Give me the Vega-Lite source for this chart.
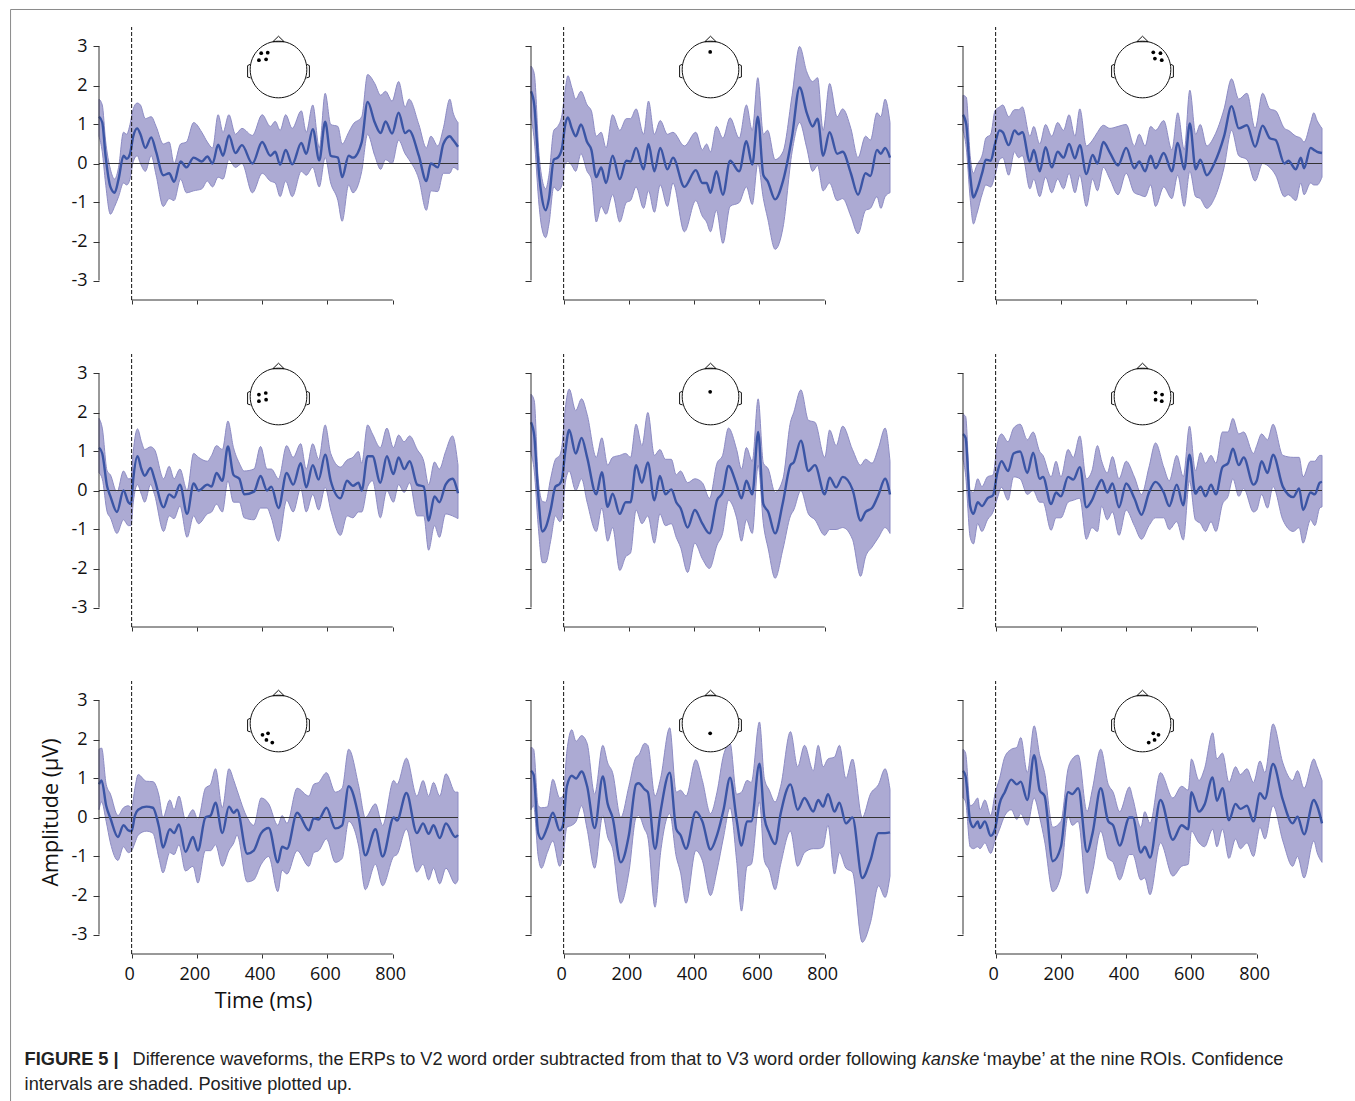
{"$schema":"https://vega.github.io/schema/vega-lite/v6.json","padding":{"left":10,"top":8,"right":0,"bottom":0},"background":"white","config":{"view":{"continuousWidth":359,"continuousHeight":273,"stroke":null},"axis":{"domain":false,"grid":false,"tickColor":"#333","labelFont":"Open Sans","labelFontSize":18,"labelColor":"#111","titleFont":"Open Sans","titleFontSize":21.5,"titleFontWeight":"normal","titleColor":"#111"},"axisX":{"tickSize":4,"labelPadding":7,"labelOffset":-2.5},"axisY":{"tickSize":6,"labelPadding":6},"area":{"color":"#acaad3","opacity":1,"stroke":"#8d8cc4","strokeWidth":1,"interpolate":"monotone"},"line":{"color":"#3b55a5","strokeWidth":2.4,"interpolate":"monotone"},"rule":{"color":"#333","strokeWidth":1},"text":{"font":"Liberation Sans","fontSize":18.2,"align":"left","baseline":"middle","color":"#222"}},
"datasets":{"one":[{}],"head":[{"t":450,"v":2.41}],
"e1":[{"t":397,"v":2.83},{"t":417,"v":2.84},{"t":390,"v":2.65},{"t":412,"v":2.67}],"e2":[{"t":449,"v":2.86}],"e3":[{"t":483,"v":2.85},{"t":505,"v":2.83},{"t":488,"v":2.69},{"t":509,"v":2.65}],"e4":[{"t":390,"v":2.46},{"t":411,"v":2.5},{"t":390,"v":2.29},{"t":412,"v":2.33}],"e5":[{"t":449,"v":2.53}],"e6":[{"t":490,"v":2.51},{"t":510,"v":2.46},{"t":490,"v":2.33},{"t":509,"v":2.29}],"e7":[{"t":401,"v":2.12},{"t":418,"v":2.16},{"t":413,"v":1.99},{"t":431,"v":1.92}],"e8":[{"t":449,"v":2.16}],"e9":[{"t":483,"v":2.16},{"t":499,"v":2.12},{"t":487,"v":1.99},{"t":469,"v":1.92}],
"p1":[{"t":-100,"m":1.2,"l":0.7,"h":1.65},{"t":-90,"m":1.05,"l":0.3,"h":1.5},{"t":-80,"m":0.2,"l":-0.5,"h":0.6},{"t":-65,"m":-0.6,"l":-1.3,"h":-0.15},{"t":-52,"m":-0.75,"l":-1.1,"h":-0.4},{"t":-40,"m":-0.4,"l":-0.85,"h":-0.1},{"t":-25,"m":0.2,"l":-0.5,"h":0.8},{"t":-15,"m":0.12,"l":-0.55,"h":0.75},{"t":-5,"m":0.25,"l":-0.4,"h":1},{"t":5,"m":0.7,"l":0.05,"h":1.4},{"t":17,"m":0.9,"l":0.2,"h":1.55},{"t":27,"m":0.75,"l":0,"h":1.5},{"t":42,"m":0.4,"l":-0.2,"h":1.15},{"t":60,"m":0.67,"l":0.2,"h":1.2},{"t":75,"m":0.3,"l":-0.3,"h":0.95},{"t":97,"m":-0.3,"l":-1.1,"h":0.5},{"t":115,"m":-0.25,"l":-0.9,"h":0.55},{"t":130,"m":-0.47,"l":-0.95,"h":0},{"t":150,"m":0.05,"l":-0.4,"h":0.5},{"t":168,"m":-0.1,"l":-0.75,"h":0.55},{"t":190,"m":0.15,"l":-0.7,"h":1.05},{"t":215,"m":0.05,"l":-0.65,"h":0.8},{"t":232,"m":0.18,"l":-0.45,"h":0.55},{"t":248,"m":0,"l":-0.6,"h":0.4},{"t":265,"m":0.48,"l":-0.35,"h":1.25},{"t":280,"m":0.2,"l":-0.4,"h":0.8},{"t":298,"m":0.72,"l":0.1,"h":1.25},{"t":318,"m":0.27,"l":-0.1,"h":0.75},{"t":338,"m":0.47,"l":0,"h":0.9},{"t":370,"m":0,"l":-0.75,"h":0.72},{"t":400,"m":0.55,"l":-0.25,"h":1.25},{"t":425,"m":0.2,"l":-0.45,"h":0.95},{"t":440,"m":0.3,"l":-0.5,"h":1.08},{"t":455,"m":-0.03,"l":-0.85,"h":0.85},{"t":472,"m":0.35,"l":-0.45,"h":1.25},{"t":492,"m":-0.02,"l":-0.85,"h":0.9},{"t":520,"m":0.53,"l":-0.2,"h":1.35},{"t":535,"m":0.25,"l":-0.3,"h":0.8},{"t":555,"m":0.88,"l":-0.1,"h":1.5},{"t":575,"m":0.08,"l":-0.6,"h":0.4},{"t":593,"m":1.07,"l":0.15,"h":1.8},{"t":610,"m":0.2,"l":-0.5,"h":1},{"t":632,"m":0.15,"l":-0.95,"h":0.95},{"t":645,"m":-0.35,"l":-1.48,"h":0.5},{"t":665,"m":0.2,"l":-0.55,"h":0.8},{"t":678,"m":0.15,"l":-0.75,"h":1},{"t":705,"m":0.55,"l":-0.2,"h":1.2},{"t":723,"m":1.58,"l":0.75,"h":2.28},{"t":745,"m":1.05,"l":0.2,"h":2.05},{"t":763,"m":0.78,"l":-0.15,"h":1.75},{"t":778,"m":1.08,"l":0.1,"h":1.85},{"t":798,"m":0.77,"l":0,"h":1.6},{"t":818,"m":1.3,"l":0.6,"h":2.1},{"t":838,"m":0.78,"l":0.25,"h":1.45},{"t":850,"m":0.85,"l":0.1,"h":1.65},{"t":880,"m":0.2,"l":-0.4,"h":1},{"t":903,"m":-0.45,"l":-1.2,"h":0.4},{"t":917,"m":0,"l":-0.7,"h":0.7},{"t":938,"m":-0.1,"l":-0.72,"h":0.45},{"t":955,"m":0.5,"l":-0.25,"h":0.9},{"t":975,"m":0.7,"l":-0.25,"h":1.65},{"t":985,"m":0.6,"l":-0.1,"h":1.3},{"t":1000,"m":0.43,"l":-0.17,"h":1.05}],
"p2":[{"t":-100,"m":1.85,"l":1.2,"h":2.5},{"t":-90,"m":1.5,"l":0.6,"h":2.3},{"t":-75,"m":-0.3,"l":-1.1,"h":0.2},{"t":-68,"m":-0.8,"l":-1.6,"h":-0.3},{"t":-55,"m":-1.2,"l":-1.9,"h":-0.65},{"t":-45,"m":-0.9,"l":-1.55,"h":-0.3},{"t":-30,"m":0.1,"l":-0.6,"h":0.85},{"t":-18,"m":0.15,"l":-0.7,"h":0.95},{"t":-5,"m":0.4,"l":-0.55,"h":1.25},{"t":5,"m":1,"l":0,"h":1.9},{"t":13,"m":1.18,"l":0.05,"h":2.25},{"t":25,"m":0.9,"l":-0.05,"h":1.95},{"t":37,"m":0.7,"l":-0.2,"h":1.65},{"t":53,"m":1,"l":0.25,"h":1.85},{"t":72,"m":0.55,"l":-0.2,"h":1.5},{"t":85,"m":0.35,"l":-0.4,"h":1.35},{"t":100,"m":-0.35,"l":-1.5,"h":0.7},{"t":115,"m":-0.1,"l":-1.1,"h":0.8},{"t":130,"m":-0.5,"l":-1.3,"h":0.4},{"t":150,"m":0.2,"l":-0.8,"h":1.25},{"t":172,"m":-0.4,"l":-1.5,"h":0.85},{"t":192,"m":0.07,"l":-1,"h":1.15},{"t":205,"m":0.05,"l":-0.95,"h":1.15},{"t":222,"m":0.4,"l":-0.6,"h":1.4},{"t":245,"m":-0.15,"l":-1.15,"h":0.75},{"t":260,"m":0.5,"l":-0.7,"h":1.6},{"t":278,"m":-0.2,"l":-1.25,"h":0.75},{"t":296,"m":0.4,"l":-0.55,"h":1.1},{"t":318,"m":-0.15,"l":-1.1,"h":0.75},{"t":335,"m":0.15,"l":-0.5,"h":0.8},{"t":370,"m":-0.6,"l":-1.75,"h":0.45},{"t":405,"m":-0.17,"l":-0.95,"h":0.8},{"t":425,"m":-0.5,"l":-1.35,"h":0.35},{"t":438,"m":-0.5,"l":-1.5,"h":0.5},{"t":450,"m":-0.75,"l":-1.75,"h":0.3},{"t":468,"m":-0.2,"l":-1.2,"h":0.95},{"t":488,"m":-0.8,"l":-2.05,"h":0.65},{"t":510,"m":0.07,"l":-1.1,"h":1.17},{"t":538,"m":-0.2,"l":-1,"h":0.65},{"t":560,"m":0.57,"l":-0.6,"h":1.5},{"t":578,"m":-0.03,"l":-1.05,"h":0.85},{"t":595,"m":1.2,"l":0,"h":2.2},{"t":612,"m":-0.3,"l":-0.9,"h":0.75},{"t":625,"m":-0.45,"l":-1.4,"h":0.85},{"t":648,"m":-0.92,"l":-2.2,"h":0.1},{"t":672,"m":-0.45,"l":-1.65,"h":0.3},{"t":700,"m":0.7,"l":0.3,"h":1.75},{"t":723,"m":1.95,"l":1.05,"h":3},{"t":745,"m":1.3,"l":0.4,"h":2.35},{"t":763,"m":0.95,"l":-0.2,"h":2.1},{"t":778,"m":1.15,"l":-0.05,"h":2.2},{"t":795,"m":0.2,"l":-0.7,"h":0.85},{"t":815,"m":0.8,"l":-0.5,"h":2.05},{"t":838,"m":0.25,"l":-0.95,"h":1.2},{"t":855,"m":0.3,"l":-0.9,"h":1.4},{"t":880,"m":-0.25,"l":-1.35,"h":0.9},{"t":902,"m":-0.8,"l":-1.8,"h":0.15},{"t":925,"m":-0.25,"l":-1.2,"h":0.7},{"t":940,"m":-0.32,"l":-1.15,"h":0.6},{"t":960,"m":0.35,"l":-0.85,"h":1.3},{"t":972,"m":0.25,"l":-1.15,"h":1.2},{"t":985,"m":0.4,"l":-0.85,"h":1.65},{"t":1000,"m":0.15,"l":-0.75,"h":1.05}],
"p3":[{"t":-100,"m":1.25,"l":0.85,"h":1.75},{"t":-90,"m":1,"l":0.4,"h":1.7},{"t":-78,"m":-0.3,"l":-0.9,"h":0.2},{"t":-68,"m":-0.87,"l":-1.55,"h":-0.25},{"t":-58,"m":-0.7,"l":-1.3,"h":-0.05},{"t":-40,"m":-0.2,"l":-0.75,"h":0.25},{"t":-30,"m":0.1,"l":-0.55,"h":0.65},{"t":-15,"m":0.07,"l":-0.6,"h":0.75},{"t":-2,"m":0.5,"l":-0.3,"h":1.35},{"t":12,"m":0.85,"l":0.1,"h":1.45},{"t":22,"m":0.8,"l":0.15,"h":1.5},{"t":40,"m":0.47,"l":-0.3,"h":1.2},{"t":58,"m":0.85,"l":0.3,"h":1.38},{"t":70,"m":0.75,"l":0.15,"h":1.38},{"t":82,"m":0.8,"l":0.2,"h":1.45},{"t":105,"m":0.05,"l":-0.65,"h":0.7},{"t":117,"m":0.35,"l":-0.4,"h":0.95},{"t":135,"m":-0.2,"l":-0.85,"h":0.5},{"t":153,"m":0.42,"l":-0.35,"h":1},{"t":172,"m":-0.1,"l":-0.75,"h":0.7},{"t":190,"m":0.3,"l":-0.4,"h":1.05},{"t":208,"m":0.15,"l":-0.65,"h":0.85},{"t":225,"m":0.5,"l":-0.25,"h":1.25},{"t":243,"m":0.13,"l":-0.75,"h":0.7},{"t":258,"m":0.47,"l":-0.3,"h":1.4},{"t":278,"m":-0.27,"l":-1.1,"h":0.45},{"t":297,"m":0.22,"l":-0.4,"h":0.6},{"t":312,"m":0,"l":-0.7,"h":0.8},{"t":330,"m":0.55,"l":-0.1,"h":0.98},{"t":350,"m":0.28,"l":-0.4,"h":0.9},{"t":375,"m":-0.05,"l":-0.8,"h":0.95},{"t":400,"m":0.4,"l":-0.25,"h":1},{"t":425,"m":-0.12,"l":-0.75,"h":0.45},{"t":440,"m":0.05,"l":-0.8,"h":0.75},{"t":458,"m":-0.2,"l":-0.85,"h":0.45},{"t":475,"m":0.2,"l":-0.55,"h":0.95},{"t":490,"m":-0.12,"l":-1.1,"h":0.85},{"t":515,"m":0.27,"l":-0.6,"h":1.1},{"t":540,"m":-0.2,"l":-0.9,"h":0.35},{"t":558,"m":0.53,"l":-0.3,"h":1.3},{"t":578,"m":-0.15,"l":-1.1,"h":0.35},{"t":595,"m":1.03,"l":-0.2,"h":1.88},{"t":613,"m":-0.15,"l":-0.85,"h":0.75},{"t":627,"m":0.1,"l":-0.9,"h":1},{"t":647,"m":-0.3,"l":-1.15,"h":0.45},{"t":670,"m":0,"l":-0.9,"h":0.7},{"t":700,"m":0.7,"l":-0.1,"h":1.4},{"t":723,"m":1.47,"l":0.85,"h":2.17},{"t":745,"m":0.9,"l":0.2,"h":1.65},{"t":770,"m":0.98,"l":0.1,"h":1.8},{"t":795,"m":0.43,"l":-0.45,"h":0.9},{"t":818,"m":0.97,"l":0,"h":1.8},{"t":840,"m":0.65,"l":-0.1,"h":1.4},{"t":858,"m":0.6,"l":-0.3,"h":1.35},{"t":885,"m":0,"l":-0.85,"h":0.9},{"t":897,"m":0.07,"l":-0.8,"h":0.85},{"t":920,"m":-0.15,"l":-0.95,"h":0.7},{"t":935,"m":0.15,"l":-0.5,"h":0.65},{"t":945,"m":-0.12,"l":-0.8,"h":0.55},{"t":965,"m":0.4,"l":-0.5,"h":1.05},{"t":975,"m":0.35,"l":-0.55,"h":1.3},{"t":985,"m":0.3,"l":-0.55,"h":1.1},{"t":1000,"m":0.27,"l":-0.35,"h":0.9}],
"p4":[{"t":-100,"m":1.1,"l":0.45,"h":1.85},{"t":-90,"m":0.95,"l":0.3,"h":1.6},{"t":-75,"m":0.1,"l":-0.55,"h":0.5},{"t":-65,"m":-0.15,"l":-0.7,"h":0.4},{"t":-45,"m":-0.55,"l":-1.1,"h":-0.05},{"t":-25,"m":0,"l":-0.75,"h":0.5},{"t":-10,"m":-0.3,"l":-0.9,"h":0.3},{"t":-2,"m":-0.35,"l":-0.9,"h":0.3},{"t":5,"m":0.3,"l":-0.3,"h":1},{"t":18,"m":0.88,"l":0.15,"h":1.58},{"t":30,"m":0.55,"l":-0.1,"h":1.25},{"t":40,"m":0.38,"l":-0.3,"h":1.05},{"t":58,"m":0.58,"l":0.15,"h":1.12},{"t":70,"m":0.3,"l":-0.1,"h":1.05},{"t":98,"m":-0.43,"l":-1.05,"h":0.3},{"t":115,"m":-0.1,"l":-0.65,"h":0.62},{"t":130,"m":-0.18,"l":-0.72,"h":0.3},{"t":148,"m":0.15,"l":-0.4,"h":0.55},{"t":170,"m":-0.6,"l":-1.2,"h":0},{"t":190,"m":0.18,"l":-0.65,"h":0.95},{"t":205,"m":0,"l":-0.85,"h":0.85},{"t":232,"m":0.15,"l":-0.6,"h":0.75},{"t":245,"m":0.1,"l":-0.55,"h":0.9},{"t":260,"m":0.45,"l":-0.35,"h":1.15},{"t":278,"m":0.25,"l":-0.55,"h":1.05},{"t":295,"m":1.13,"l":0.25,"h":1.78},{"t":312,"m":0.4,"l":-0.3,"h":1.1},{"t":330,"m":0.3,"l":-0.3,"h":0.7},{"t":345,"m":-0.1,"l":-0.7,"h":0.5},{"t":375,"m":-0.03,"l":-0.75,"h":0.55},{"t":395,"m":0.37,"l":-0.45,"h":1.13},{"t":415,"m":0,"l":-0.45,"h":0.55},{"t":428,"m":0.1,"l":-0.7,"h":0.55},{"t":450,"m":-0.45,"l":-1.3,"h":0.3},{"t":475,"m":0.45,"l":-0.25,"h":1.15},{"t":495,"m":0.15,"l":-0.55,"h":0.85},{"t":518,"m":0.7,"l":0.05,"h":1.2},{"t":535,"m":0.08,"l":-0.55,"h":0.55},{"t":555,"m":0.65,"l":-0.1,"h":1.2},{"t":573,"m":0.28,"l":-0.5,"h":0.8},{"t":593,"m":0.92,"l":0.08,"h":1.68},{"t":610,"m":0.25,"l":-0.5,"h":0.95},{"t":640,"m":-0.2,"l":-1.15,"h":0.6},{"t":660,"m":0.25,"l":-0.65,"h":0.78},{"t":678,"m":0.12,"l":-0.7,"h":0.85},{"t":695,"m":0.2,"l":-0.55,"h":1},{"t":705,"m":0,"l":-0.55,"h":0.7},{"t":723,"m":0.88,"l":0.1,"h":1.68},{"t":738,"m":0.88,"l":0.25,"h":1.45},{"t":762,"m":0.2,"l":-0.7,"h":1.1},{"t":782,"m":0.88,"l":0,"h":1.6},{"t":802,"m":0.42,"l":-0.3,"h":1.1},{"t":818,"m":0.85,"l":0.15,"h":1.42},{"t":835,"m":0.55,"l":-0.05,"h":1.25},{"t":852,"m":0.75,"l":0.2,"h":1.4},{"t":875,"m":0.15,"l":-0.65,"h":1.05},{"t":895,"m":0.1,"l":-0.65,"h":0.75},{"t":910,"m":-0.77,"l":-1.53,"h":0.15},{"t":928,"m":-0.15,"l":-0.9,"h":0.73},{"t":943,"m":-0.3,"l":-1.2,"h":0.55},{"t":962,"m":0.15,"l":-0.6,"h":1},{"t":983,"m":0.3,"l":-0.65,"h":1.4},{"t":1000,"m":-0.07,"l":-0.72,"h":0.65}],
"p5":[{"t":-100,"m":1.75,"l":0.95,"h":2.47},{"t":-90,"m":1.4,"l":0.5,"h":2.3},{"t":-78,"m":-0.1,"l":-0.9,"h":0.3},{"t":-65,"m":-1.05,"l":-1.85,"h":-0.28},{"t":-55,"m":-0.95,"l":-1.85,"h":-0.3},{"t":-40,"m":-0.5,"l":-1.3,"h":0.3},{"t":-25,"m":0.1,"l":-0.65,"h":0.8},{"t":-12,"m":0.17,"l":-0.8,"h":0.9},{"t":-5,"m":0.3,"l":-0.7,"h":1.15},{"t":5,"m":1,"l":0.2,"h":2.1},{"t":17,"m":1.55,"l":0.5,"h":2.6},{"t":37,"m":0.95,"l":0,"h":2.05},{"t":55,"m":1.35,"l":0.3,"h":2.35},{"t":72,"m":0.85,"l":-0.3,"h":1.95},{"t":100,"m":-0.1,"l":-1.05,"h":0.85},{"t":117,"m":0.47,"l":-0.45,"h":1.35},{"t":135,"m":-0.42,"l":-1.3,"h":0.65},{"t":150,"m":-0.08,"l":-0.95,"h":0.85},{"t":172,"m":-0.6,"l":-2.05,"h":0.9},{"t":190,"m":-0.3,"l":-1.7,"h":0.95},{"t":205,"m":-0.3,"l":-1.6,"h":0.85},{"t":222,"m":0.65,"l":-0.5,"h":1.7},{"t":240,"m":0.2,"l":-0.85,"h":1.15},{"t":258,"m":0.72,"l":-0.65,"h":2},{"t":278,"m":-0.25,"l":-1.35,"h":0.9},{"t":295,"m":0.37,"l":-0.6,"h":1.05},{"t":312,"m":-0.1,"l":-0.9,"h":0.8},{"t":330,"m":0.03,"l":-0.85,"h":0.8},{"t":345,"m":-0.3,"l":-1.2,"h":0.4},{"t":358,"m":-0.45,"l":-1.45,"h":0.5},{"t":380,"m":-0.95,"l":-2.1,"h":0.2},{"t":402,"m":-0.5,"l":-1.35,"h":0.3},{"t":425,"m":-0.85,"l":-1.75,"h":0.2},{"t":447,"m":-1.1,"l":-2,"h":-0.2},{"t":470,"m":-0.25,"l":-1.4,"h":0.7},{"t":487,"m":-0.05,"l":-1.1,"h":0.9},{"t":505,"m":0.63,"l":-0.25,"h":1.6},{"t":530,"m":0.15,"l":-0.7,"h":1.05},{"t":545,"m":-0.2,"l":-1.3,"h":0.55},{"t":560,"m":0.25,"l":-0.75,"h":1.1},{"t":578,"m":-0.1,"l":-1.1,"h":0.75},{"t":596,"m":1.5,"l":0.65,"h":2.35},{"t":612,"m":-0.35,"l":-0.85,"h":0.7},{"t":627,"m":-0.55,"l":-1.5,"h":0.55},{"t":648,"m":-1.1,"l":-2.25,"h":-0.05},{"t":672,"m":-0.3,"l":-1.5,"h":0.3},{"t":695,"m":0.65,"l":-0.65,"h":1.75},{"t":705,"m":0.72,"l":-0.5,"h":2},{"t":727,"m":1.28,"l":0,"h":2.58},{"t":750,"m":0.5,"l":-0.6,"h":1.8},{"t":770,"m":0.65,"l":-0.75,"h":1.75},{"t":800,"m":-0.1,"l":-1.15,"h":0.85},{"t":815,"m":0.33,"l":-1,"h":1.55},{"t":835,"m":0.08,"l":-1,"h":1.15},{"t":855,"m":0.35,"l":-0.95,"h":1.65},{"t":885,"m":0.03,"l":-1.25,"h":1.05},{"t":910,"m":-0.77,"l":-2.2,"h":0.65},{"t":925,"m":-0.55,"l":-1.7,"h":0.8},{"t":945,"m":-0.45,"l":-1.45,"h":0.7},{"t":965,"m":-0.1,"l":-1.2,"h":1.1},{"t":985,"m":0.3,"l":-0.95,"h":1.6},{"t":1000,"m":-0.1,"l":-1.1,"h":0.75}],
"p6":[{"t":-100,"m":1.45,"l":0.8,"h":1.95},{"t":-92,"m":1.35,"l":0.4,"h":1.9},{"t":-78,"m":-0.4,"l":-1.2,"h":0},{"t":-68,"m":-0.6,"l":-1.37,"h":-0.05},{"t":-55,"m":-0.3,"l":-0.85,"h":0.3},{"t":-42,"m":-0.4,"l":-1.05,"h":0.1},{"t":-25,"m":-0.2,"l":-0.75,"h":0.35},{"t":-8,"m":-0.12,"l":-0.55,"h":0.4},{"t":5,"m":0.45,"l":-0.2,"h":1.2},{"t":18,"m":0.75,"l":0.08,"h":1.45},{"t":38,"m":0.5,"l":-0.25,"h":1.25},{"t":55,"m":0.95,"l":0.35,"h":1.6},{"t":75,"m":1,"l":0.3,"h":1.7},{"t":97,"m":0.45,"l":-0.1,"h":1.3},{"t":115,"m":0.97,"l":0,"h":1.5},{"t":135,"m":0.3,"l":-0.3,"h":1},{"t":145,"m":0.35,"l":-0.3,"h":0.9},{"t":170,"m":-0.35,"l":-1.02,"h":0.35},{"t":185,"m":-0.05,"l":-0.7,"h":0.75},{"t":200,"m":-0.15,"l":-0.7,"h":0.35},{"t":222,"m":0.35,"l":-0.3,"h":1.05},{"t":238,"m":0.28,"l":-0.25,"h":0.85},{"t":258,"m":0.6,"l":-0.2,"h":1.4},{"t":278,"m":-0.43,"l":-1.25,"h":0.3},{"t":295,"m":-0.25,"l":-0.95,"h":0.5},{"t":312,"m":0.1,"l":-1.05,"h":1.15},{"t":325,"m":0.27,"l":-0.4,"h":0.75},{"t":342,"m":-0.05,"l":-0.75,"h":0.45},{"t":358,"m":0.18,"l":-0.55,"h":0.87},{"t":378,"m":-0.43,"l":-1.15,"h":0.3},{"t":400,"m":0.18,"l":-0.5,"h":0.75},{"t":425,"m":-0.2,"l":-0.9,"h":0.35},{"t":447,"m":-0.62,"l":-1.25,"h":-0.1},{"t":470,"m":-0.05,"l":-0.9,"h":0.6},{"t":490,"m":0.22,"l":-0.7,"h":1.22},{"t":515,"m":-0.05,"l":-0.7,"h":0.6},{"t":532,"m":-0.4,"l":-1,"h":0.25},{"t":555,"m":0.15,"l":-0.8,"h":0.9},{"t":575,"m":-0.38,"l":-1.27,"h":0.35},{"t":594,"m":0.92,"l":0.25,"h":1.65},{"t":612,"m":-0.08,"l":-0.75,"h":0.5},{"t":628,"m":0.1,"l":-0.85,"h":0.97},{"t":643,"m":-0.15,"l":-1.05,"h":0.7},{"t":660,"m":0.15,"l":-0.8,"h":0.9},{"t":675,"m":-0.1,"l":-1.05,"h":0.7},{"t":695,"m":0.6,"l":-0.35,"h":1.5},{"t":712,"m":0.7,"l":-0.15,"h":1.5},{"t":727,"m":1.07,"l":0.3,"h":1.85},{"t":745,"m":0.65,"l":-0.15,"h":1.45},{"t":760,"m":0.85,"l":0.05,"h":1.5},{"t":790,"m":0.15,"l":-0.55,"h":0.95},{"t":800,"m":0.25,"l":-0.5,"h":1.15},{"t":815,"m":0.75,"l":-0.1,"h":1.45},{"t":833,"m":0.45,"l":-0.45,"h":1.3},{"t":850,"m":0.92,"l":0.1,"h":1.7},{"t":880,"m":0.1,"l":-0.75,"h":0.9},{"t":912,"m":-0.17,"l":-1.05,"h":0.85},{"t":930,"m":0.05,"l":-0.95,"h":0.85},{"t":942,"m":-0.5,"l":-1.35,"h":0.35},{"t":965,"m":-0.05,"l":-0.75,"h":0.75},{"t":978,"m":-0.1,"l":-0.9,"h":0.75},{"t":993,"m":0.2,"l":-0.45,"h":0.9},{"t":1000,"m":0.22,"l":-0.42,"h":0.9}],
"p7":[{"t":-100,"m":0.85,"l":0.2,"h":1.75},{"t":-92,"m":0.95,"l":0.4,"h":1.78},{"t":-78,"m":0.3,"l":-0.1,"h":0.85},{"t":-65,"m":-0.02,"l":-0.65,"h":0.6},{"t":-42,"m":-0.5,"l":-1.1,"h":0.05},{"t":-25,"m":-0.2,"l":-0.75,"h":0.25},{"t":-10,"m":-0.33,"l":-0.9,"h":0.3},{"t":0,"m":-0.35,"l":-0.85,"h":0.25},{"t":10,"m":0.05,"l":-0.65,"h":0.75},{"t":20,"m":0.2,"l":-0.45,"h":1.1},{"t":45,"m":0.28,"l":-0.35,"h":0.93},{"t":65,"m":0.25,"l":-0.4,"h":0.92},{"t":84,"m":-0.25,"l":-1.05,"h":0.55},{"t":96,"m":-0.77,"l":-1.42,"h":0},{"t":117,"m":-0.3,"l":-0.9,"h":0.45},{"t":130,"m":-0.4,"l":-0.95,"h":0.2},{"t":145,"m":-0.18,"l":-0.7,"h":0.55},{"t":165,"m":-0.88,"l":-1.37,"h":-0.05},{"t":188,"m":-0.5,"l":-1.25,"h":0.2},{"t":203,"m":-0.85,"l":-1.68,"h":-0.05},{"t":226,"m":0,"l":-0.85,"h":0.75},{"t":242,"m":0.05,"l":-0.85,"h":0.85},{"t":257,"m":0.38,"l":-0.7,"h":1.25},{"t":278,"m":-0.4,"l":-1.25,"h":0.25},{"t":298,"m":0.28,"l":-0.85,"h":1.25},{"t":313,"m":0.12,"l":-0.65,"h":0.95},{"t":323,"m":0.2,"l":-0.45,"h":0.7},{"t":354,"m":-0.93,"l":-1.65,"h":0},{"t":374,"m":-0.85,"l":-1.6,"h":-0.2},{"t":397,"m":-0.4,"l":-1.2,"h":0.5},{"t":420,"m":-0.27,"l":-1,"h":0.35},{"t":448,"m":-1.15,"l":-1.9,"h":-0.2},{"t":461,"m":-0.75,"l":-1.35,"h":0.05},{"t":476,"m":-0.8,"l":-1.45,"h":-0.15},{"t":507,"m":0.12,"l":-0.85,"h":0.75},{"t":543,"m":-0.33,"l":-1.25,"h":0.55},{"t":558,"m":-0.02,"l":-0.9,"h":0.85},{"t":573,"m":-0.05,"l":-0.85,"h":0.9},{"t":597,"m":0.25,"l":-0.55,"h":1.15},{"t":624,"m":-0.28,"l":-1.15,"h":0.65},{"t":645,"m":-0.2,"l":-1.05,"h":0.75},{"t":665,"m":0.8,"l":-0.1,"h":1.75},{"t":696,"m":0,"l":-0.75,"h":0.8},{"t":716,"m":-0.97,"l":-1.85,"h":0},{"t":747,"m":-0.3,"l":-1.2,"h":0.35},{"t":769,"m":-1,"l":-1.75,"h":-0.2},{"t":803,"m":0,"l":-1,"h":0.95},{"t":813,"m":-0.08,"l":-0.95,"h":0.85},{"t":842,"m":0.63,"l":-0.3,"h":1.52},{"t":874,"m":-0.4,"l":-1.4,"h":0.55},{"t":893,"m":-0.15,"l":-1.2,"h":0.95},{"t":910,"m":-0.42,"l":-1.6,"h":0.55},{"t":925,"m":-0.2,"l":-1.3,"h":0.9},{"t":944,"m":-0.53,"l":-1.7,"h":0.55},{"t":963,"m":-0.15,"l":-1.3,"h":1.12},{"t":992,"m":-0.5,"l":-1.7,"h":0.65},{"t":1000,"m":-0.45,"l":-1.6,"h":0.65}],
"p8":[{"t":-100,"m":1.2,"l":0.2,"h":1.8},{"t":-92,"m":1.1,"l":0.3,"h":1.75},{"t":-78,"m":-0.4,"l":-1,"h":0.3},{"t":-68,"m":-0.55,"l":-1.3,"h":0.25},{"t":-50,"m":-0.25,"l":-0.9,"h":0.27},{"t":-33,"m":0.12,"l":-0.6,"h":0.98},{"t":-12,"m":-0.33,"l":-1.25,"h":0.5},{"t":-2,"m":-0.2,"l":-1,"h":0.55},{"t":10,"m":0.8,"l":-0.25,"h":1.7},{"t":25,"m":1.07,"l":-0.2,"h":2.25},{"t":38,"m":1,"l":-0.1,"h":1.95},{"t":55,"m":1.18,"l":0.3,"h":2.1},{"t":72,"m":0.8,"l":-0.3,"h":1.9},{"t":95,"m":-0.27,"l":-1.3,"h":0.6},{"t":120,"m":1.05,"l":0.05,"h":1.85},{"t":135,"m":0.35,"l":-0.5,"h":1.4},{"t":150,"m":0,"l":-0.8,"h":1.15},{"t":175,"m":-1.15,"l":-2.2,"h":0},{"t":200,"m":-0.45,"l":-1.4,"h":0.8},{"t":222,"m":0.85,"l":0,"h":1.55},{"t":230,"m":0.88,"l":0.05,"h":1.6},{"t":248,"m":0.72,"l":-0.3,"h":1.9},{"t":258,"m":0.65,"l":-0.5,"h":1.85},{"t":280,"m":-0.8,"l":-2.3,"h":0.55},{"t":297,"m":0.15,"l":-0.9,"h":1},{"t":325,"m":1.15,"l":0.1,"h":2.3},{"t":345,"m":-0.3,"l":-1,"h":0.65},{"t":358,"m":-0.45,"l":-1.4,"h":0.7},{"t":375,"m":-0.8,"l":-2.2,"h":0.55},{"t":405,"m":0.15,"l":-0.85,"h":1.48},{"t":425,"m":-0.1,"l":-1.1,"h":0.95},{"t":450,"m":-0.82,"l":-2,"h":0.1},{"t":470,"m":-0.45,"l":-1.35,"h":0.65},{"t":490,"m":0.2,"l":-0.5,"h":1.6},{"t":510,"m":1.02,"l":0.25,"h":1.9},{"t":530,"m":-0.05,"l":-1.1,"h":0.6},{"t":545,"m":-0.72,"l":-2.4,"h":0.65},{"t":562,"m":-0.1,"l":-1.25,"h":0.95},{"t":575,"m":-0.1,"l":-1.2,"h":0.9},{"t":600,"m":1.38,"l":0.4,"h":2.45},{"t":615,"m":0,"l":-1.1,"h":1},{"t":630,"m":-0.4,"l":-1.35,"h":0.7},{"t":648,"m":-0.68,"l":-1.85,"h":0.4},{"t":665,"m":0.1,"l":-1.2,"h":0.8},{"t":695,"m":0.85,"l":-0.35,"h":2.2},{"t":717,"m":0.2,"l":-1.25,"h":1.3},{"t":738,"m":0.5,"l":-0.9,"h":1.85},{"t":765,"m":0.15,"l":-0.8,"h":1.2},{"t":780,"m":0.45,"l":-0.8,"h":1.85},{"t":795,"m":0.28,"l":-0.75,"h":1.3},{"t":810,"m":0.6,"l":-0.2,"h":1.5},{"t":830,"m":0.15,"l":-1.45,"h":1.55},{"t":845,"m":0.38,"l":-0.9,"h":1.85},{"t":865,"m":-0.15,"l":-1.3,"h":1},{"t":885,"m":0,"l":-1.4,"h":1.5},{"t":915,"m":-1.55,"l":-3.2,"h":0},{"t":940,"m":-1.1,"l":-2.7,"h":0.6},{"t":965,"m":-0.4,"l":-1.75,"h":0.85},{"t":985,"m":-0.4,"l":-2.05,"h":1.25},{"t":1000,"m":-0.38,"l":-1.5,"h":0.72}],
"p9":[{"t":-100,"m":1.2,"l":0.5,"h":1.75},{"t":-92,"m":1.05,"l":0.4,"h":1.65},{"t":-78,"m":-0.1,"l":-0.75,"h":0.3},{"t":-68,"m":-0.25,"l":-0.8,"h":0.35},{"t":-55,"m":-0.1,"l":-0.75,"h":0.5},{"t":-48,"m":-0.27,"l":-0.8,"h":0.2},{"t":-33,"m":-0.1,"l":-0.65,"h":0.45},{"t":-15,"m":-0.47,"l":-0.92,"h":0.05},{"t":-2,"m":-0.3,"l":-0.6,"h":0.6},{"t":12,"m":0.35,"l":-0.3,"h":1},{"t":28,"m":0.65,"l":0.05,"h":1.55},{"t":48,"m":0.97,"l":0.2,"h":1.75},{"t":65,"m":0.85,"l":-0.05,"h":1.8},{"t":77,"m":0.92,"l":0.1,"h":2.05},{"t":97,"m":0.45,"l":-0.2,"h":1.15},{"t":118,"m":1.6,"l":0.5,"h":2.35},{"t":135,"m":0.7,"l":0,"h":1.6},{"t":150,"m":0.55,"l":-0.6,"h":1.15},{"t":175,"m":-1.12,"l":-1.9,"h":-0.25},{"t":200,"m":-0.75,"l":-1.5,"h":-0.1},{"t":222,"m":0.65,"l":0.05,"h":1.25},{"t":235,"m":0.6,"l":-0.2,"h":1.5},{"t":253,"m":0.75,"l":-0.1,"h":1.6},{"t":280,"m":-0.88,"l":-1.95,"h":0.15},{"t":297,"m":-0.4,"l":-1.4,"h":0.75},{"t":322,"m":0.75,"l":-0.35,"h":1.75},{"t":345,"m":-0.1,"l":-1.05,"h":0.85},{"t":360,"m":-0.2,"l":-1.15,"h":0.65},{"t":380,"m":-0.72,"l":-1.6,"h":0.15},{"t":410,"m":0,"l":-0.95,"h":0.78},{"t":420,"m":0,"l":-0.95,"h":0.5},{"t":445,"m":-0.9,"l":-1.6,"h":-0.25},{"t":457,"m":-0.75,"l":-1.55,"h":0.15},{"t":473,"m":-1.03,"l":-1.98,"h":-0.15},{"t":505,"m":0.45,"l":-0.65,"h":1.15},{"t":543,"m":-0.57,"l":-1.5,"h":0.5},{"t":570,"m":-0.2,"l":-1.25,"h":0.8},{"t":590,"m":-0.3,"l":-1.2,"h":0.7},{"t":600,"m":0.65,"l":-0.35,"h":1.5},{"t":623,"m":0.15,"l":-0.65,"h":0.95},{"t":640,"m":0.33,"l":-0.75,"h":1.25},{"t":665,"m":1.03,"l":-0.3,"h":2.17},{"t":678,"m":0.43,"l":-0.75,"h":1.5},{"t":695,"m":0.75,"l":-0.3,"h":1.65},{"t":715,"m":-0.07,"l":-1.05,"h":0.9},{"t":735,"m":0.35,"l":-0.55,"h":1.3},{"t":750,"m":0.22,"l":-0.8,"h":1.1},{"t":770,"m":0.3,"l":-0.65,"h":1.25},{"t":790,"m":-0.1,"l":-1,"h":0.9},{"t":810,"m":0.62,"l":-0.25,"h":1.45},{"t":825,"m":0.48,"l":-0.55,"h":1.15},{"t":850,"m":1.37,"l":0.3,"h":2.4},{"t":880,"m":0.45,"l":-0.6,"h":1.4},{"t":910,"m":-0.15,"l":-1.25,"h":0.95},{"t":925,"m":0.02,"l":-1,"h":1.2},{"t":945,"m":-0.43,"l":-1.55,"h":0.75},{"t":975,"m":0.45,"l":-0.6,"h":1.5},{"t":985,"m":0.3,"l":-0.9,"h":1.3},{"t":1000,"m":-0.15,"l":-1.15,"h":0.95}]},
"columns":3,"spacing":{"row":54,"column":73},"bounds":"flush","align":"all",
"concat":[
{"layer":[
{"data":{"name":"p1"},"mark":"area","encoding":{"x":{"field":"t","type":"quantitative","scale":{"domain":[-100,1000]},"axis":{"values":[0,200,400,600,800],"labels":false,"title":null}},"y":{"field":"l","type":"quantitative","scale":{"domain":[-3.5,3.5]},"axis":{"values":[-3,-2,-1,0,1,2,3],"labelExpr":"datum.value+''","title":null}},"y2":{"field":"h"}}},
{"data":{"name":"one"},"mark":{"type":"rule","color":"#8a8a8a"},"encoding":{"x":{"datum":-371},"x2":{"datum":3752},"y":{"datum":3.949}}},
{"data":{"name":"one"},"mark":{"type":"rule","color":"#8a8a8a"},"encoding":{"x":{"datum":-371},"y":{"datum":3.949},"y2":{"datum":-24.05}}},
{"data":{"name":"one"},"mark":"rule","encoding":{"x":{"datum":-100},"x2":{"datum":1000},"y":{"datum":0}}},
{"data":{"name":"p1"},"mark":"line","encoding":{"x":{"field":"t","type":"quantitative"},"y":{"field":"m","type":"quantitative"}}},
{"data":{"name":"one"},"mark":"rule","encoding":{"x":{"datum":0},"x2":{"datum":800},"y":{"datum":-3.5}}},
{"data":{"name":"one"},"mark":"rule","encoding":{"x":{"datum":-100},"y":{"datum":-3},"y2":{"datum":3}}},
{"data":{"name":"one"},"mark":{"type":"rule","strokeDash":[4,2],"color":"#111"},"encoding":{"x":{"datum":0},"y":{"datum":-3.5},"y2":{"datum":3.5}}},
{"data":{"name":"head"},"mark":{"type":"point","filled":true,"fill":"white","opacity":1,"stroke":"#111","strokeWidth":1,"size":3600,"shape":"M-0.944,0A0.944,0.944 0 1,1 0.944,0A0.944,0.944 0 1,1 -0.944,0Z M-0.19,-0.925L0,-1.11L0.19,-0.925Z M-0.95,-0.17L-1.03,-0.13L-1.03,0.25L-0.93,0.28 M0.95,-0.17L1.03,-0.13L1.03,0.25L0.93,0.28"},"encoding":{"x":{"field":"t","type":"quantitative"},"y":{"field":"v","type":"quantitative"}}},
{"data":{"name":"e1"},"mark":{"type":"circle","color":"black","opacity":1,"size":14},"encoding":{"x":{"field":"t","type":"quantitative"},"y":{"field":"v","type":"quantitative"}}}
]},
{"layer":[
{"data":{"name":"p2"},"mark":"area","encoding":{"x":{"field":"t","type":"quantitative","scale":{"domain":[-100,1000]},"axis":{"values":[0,200,400,600,800],"labels":false,"title":null}},"y":{"field":"l","type":"quantitative","scale":{"domain":[-3.5,3.5]},"axis":{"values":[-3,-2,-1,0,1,2,3],"labels":false,"title":null}},"y2":{"field":"h"}}},
{"data":{"name":"one"},"mark":"rule","encoding":{"x":{"datum":-100},"x2":{"datum":1000},"y":{"datum":0}}},
{"data":{"name":"p2"},"mark":"line","encoding":{"x":{"field":"t","type":"quantitative"},"y":{"field":"m","type":"quantitative"}}},
{"data":{"name":"one"},"mark":"rule","encoding":{"x":{"datum":0},"x2":{"datum":800},"y":{"datum":-3.5}}},
{"data":{"name":"one"},"mark":"rule","encoding":{"x":{"datum":-100},"y":{"datum":-3},"y2":{"datum":3}}},
{"data":{"name":"one"},"mark":{"type":"rule","strokeDash":[4,2],"color":"#111"},"encoding":{"x":{"datum":0},"y":{"datum":-3.5},"y2":{"datum":3.5}}},
{"data":{"name":"head"},"mark":{"type":"point","filled":true,"fill":"white","opacity":1,"stroke":"#111","strokeWidth":1,"size":3600,"shape":"M-0.944,0A0.944,0.944 0 1,1 0.944,0A0.944,0.944 0 1,1 -0.944,0Z M-0.19,-0.925L0,-1.11L0.19,-0.925Z M-0.95,-0.17L-1.03,-0.13L-1.03,0.25L-0.93,0.28 M0.95,-0.17L1.03,-0.13L1.03,0.25L0.93,0.28"},"encoding":{"x":{"field":"t","type":"quantitative"},"y":{"field":"v","type":"quantitative"}}},
{"data":{"name":"e2"},"mark":{"type":"circle","color":"black","opacity":1,"size":14},"encoding":{"x":{"field":"t","type":"quantitative"},"y":{"field":"v","type":"quantitative"}}}
]},
{"layer":[
{"data":{"name":"p3"},"mark":"area","encoding":{"x":{"field":"t","type":"quantitative","scale":{"domain":[-100,1000]},"axis":{"values":[0,200,400,600,800],"labels":false,"title":null}},"y":{"field":"l","type":"quantitative","scale":{"domain":[-3.5,3.5]},"axis":{"values":[-3,-2,-1,0,1,2,3],"labels":false,"title":null}},"y2":{"field":"h"}}},
{"data":{"name":"one"},"mark":"rule","encoding":{"x":{"datum":-100},"x2":{"datum":1000},"y":{"datum":0}}},
{"data":{"name":"p3"},"mark":"line","encoding":{"x":{"field":"t","type":"quantitative"},"y":{"field":"m","type":"quantitative"}}},
{"data":{"name":"one"},"mark":"rule","encoding":{"x":{"datum":0},"x2":{"datum":800},"y":{"datum":-3.5}}},
{"data":{"name":"one"},"mark":"rule","encoding":{"x":{"datum":-100},"y":{"datum":-3},"y2":{"datum":3}}},
{"data":{"name":"one"},"mark":{"type":"rule","strokeDash":[4,2],"color":"#111"},"encoding":{"x":{"datum":0},"y":{"datum":-3.5},"y2":{"datum":3.5}}},
{"data":{"name":"head"},"mark":{"type":"point","filled":true,"fill":"white","opacity":1,"stroke":"#111","strokeWidth":1,"size":3600,"shape":"M-0.944,0A0.944,0.944 0 1,1 0.944,0A0.944,0.944 0 1,1 -0.944,0Z M-0.19,-0.925L0,-1.11L0.19,-0.925Z M-0.95,-0.17L-1.03,-0.13L-1.03,0.25L-0.93,0.28 M0.95,-0.17L1.03,-0.13L1.03,0.25L0.93,0.28"},"encoding":{"x":{"field":"t","type":"quantitative"},"y":{"field":"v","type":"quantitative"}}},
{"data":{"name":"e3"},"mark":{"type":"circle","color":"black","opacity":1,"size":14},"encoding":{"x":{"field":"t","type":"quantitative"},"y":{"field":"v","type":"quantitative"}}}
]},
{"layer":[
{"data":{"name":"p4"},"mark":"area","encoding":{"x":{"field":"t","type":"quantitative","scale":{"domain":[-100,1000]},"axis":{"values":[0,200,400,600,800],"labels":false,"title":null}},"y":{"field":"l","type":"quantitative","scale":{"domain":[-3.5,3.5]},"axis":{"values":[-3,-2,-1,0,1,2,3],"labelExpr":"datum.value+''","title":null}},"y2":{"field":"h"}}},
{"data":{"name":"one"},"mark":"rule","encoding":{"x":{"datum":-100},"x2":{"datum":1000},"y":{"datum":0}}},
{"data":{"name":"p4"},"mark":"line","encoding":{"x":{"field":"t","type":"quantitative"},"y":{"field":"m","type":"quantitative"}}},
{"data":{"name":"one"},"mark":"rule","encoding":{"x":{"datum":0},"x2":{"datum":800},"y":{"datum":-3.5}}},
{"data":{"name":"one"},"mark":"rule","encoding":{"x":{"datum":-100},"y":{"datum":-3},"y2":{"datum":3}}},
{"data":{"name":"one"},"mark":{"type":"rule","strokeDash":[4,2],"color":"#111"},"encoding":{"x":{"datum":0},"y":{"datum":-3.5},"y2":{"datum":3.5}}},
{"data":{"name":"head"},"mark":{"type":"point","filled":true,"fill":"white","opacity":1,"stroke":"#111","strokeWidth":1,"size":3600,"shape":"M-0.944,0A0.944,0.944 0 1,1 0.944,0A0.944,0.944 0 1,1 -0.944,0Z M-0.19,-0.925L0,-1.11L0.19,-0.925Z M-0.95,-0.17L-1.03,-0.13L-1.03,0.25L-0.93,0.28 M0.95,-0.17L1.03,-0.13L1.03,0.25L0.93,0.28"},"encoding":{"x":{"field":"t","type":"quantitative"},"y":{"field":"v","type":"quantitative"}}},
{"data":{"name":"e4"},"mark":{"type":"circle","color":"black","opacity":1,"size":14},"encoding":{"x":{"field":"t","type":"quantitative"},"y":{"field":"v","type":"quantitative"}}}
]},
{"layer":[
{"data":{"name":"p5"},"mark":"area","encoding":{"x":{"field":"t","type":"quantitative","scale":{"domain":[-100,1000]},"axis":{"values":[0,200,400,600,800],"labels":false,"title":null}},"y":{"field":"l","type":"quantitative","scale":{"domain":[-3.5,3.5]},"axis":{"values":[-3,-2,-1,0,1,2,3],"labels":false,"title":null}},"y2":{"field":"h"}}},
{"data":{"name":"one"},"mark":"rule","encoding":{"x":{"datum":-100},"x2":{"datum":1000},"y":{"datum":0}}},
{"data":{"name":"p5"},"mark":"line","encoding":{"x":{"field":"t","type":"quantitative"},"y":{"field":"m","type":"quantitative"}}},
{"data":{"name":"one"},"mark":"rule","encoding":{"x":{"datum":0},"x2":{"datum":800},"y":{"datum":-3.5}}},
{"data":{"name":"one"},"mark":"rule","encoding":{"x":{"datum":-100},"y":{"datum":-3},"y2":{"datum":3}}},
{"data":{"name":"one"},"mark":{"type":"rule","strokeDash":[4,2],"color":"#111"},"encoding":{"x":{"datum":0},"y":{"datum":-3.5},"y2":{"datum":3.5}}},
{"data":{"name":"head"},"mark":{"type":"point","filled":true,"fill":"white","opacity":1,"stroke":"#111","strokeWidth":1,"size":3600,"shape":"M-0.944,0A0.944,0.944 0 1,1 0.944,0A0.944,0.944 0 1,1 -0.944,0Z M-0.19,-0.925L0,-1.11L0.19,-0.925Z M-0.95,-0.17L-1.03,-0.13L-1.03,0.25L-0.93,0.28 M0.95,-0.17L1.03,-0.13L1.03,0.25L0.93,0.28"},"encoding":{"x":{"field":"t","type":"quantitative"},"y":{"field":"v","type":"quantitative"}}},
{"data":{"name":"e5"},"mark":{"type":"circle","color":"black","opacity":1,"size":14},"encoding":{"x":{"field":"t","type":"quantitative"},"y":{"field":"v","type":"quantitative"}}}
]},
{"layer":[
{"data":{"name":"p6"},"mark":"area","encoding":{"x":{"field":"t","type":"quantitative","scale":{"domain":[-100,1000]},"axis":{"values":[0,200,400,600,800],"labels":false,"title":null}},"y":{"field":"l","type":"quantitative","scale":{"domain":[-3.5,3.5]},"axis":{"values":[-3,-2,-1,0,1,2,3],"labels":false,"title":null}},"y2":{"field":"h"}}},
{"data":{"name":"one"},"mark":"rule","encoding":{"x":{"datum":-100},"x2":{"datum":1000},"y":{"datum":0}}},
{"data":{"name":"p6"},"mark":"line","encoding":{"x":{"field":"t","type":"quantitative"},"y":{"field":"m","type":"quantitative"}}},
{"data":{"name":"one"},"mark":"rule","encoding":{"x":{"datum":0},"x2":{"datum":800},"y":{"datum":-3.5}}},
{"data":{"name":"one"},"mark":"rule","encoding":{"x":{"datum":-100},"y":{"datum":-3},"y2":{"datum":3}}},
{"data":{"name":"one"},"mark":{"type":"rule","strokeDash":[4,2],"color":"#111"},"encoding":{"x":{"datum":0},"y":{"datum":-3.5},"y2":{"datum":3.5}}},
{"data":{"name":"head"},"mark":{"type":"point","filled":true,"fill":"white","opacity":1,"stroke":"#111","strokeWidth":1,"size":3600,"shape":"M-0.944,0A0.944,0.944 0 1,1 0.944,0A0.944,0.944 0 1,1 -0.944,0Z M-0.19,-0.925L0,-1.11L0.19,-0.925Z M-0.95,-0.17L-1.03,-0.13L-1.03,0.25L-0.93,0.28 M0.95,-0.17L1.03,-0.13L1.03,0.25L0.93,0.28"},"encoding":{"x":{"field":"t","type":"quantitative"},"y":{"field":"v","type":"quantitative"}}},
{"data":{"name":"e6"},"mark":{"type":"circle","color":"black","opacity":1,"size":14},"encoding":{"x":{"field":"t","type":"quantitative"},"y":{"field":"v","type":"quantitative"}}}
]},
{"layer":[
{"data":{"name":"p7"},"mark":"area","encoding":{"x":{"field":"t","type":"quantitative","scale":{"domain":[-100,1000]},"axis":{"values":[0,200,400,600,800],"title":"Time (ms)","titleX":164,"titlePadding":7}},"y":{"field":"l","type":"quantitative","scale":{"domain":[-3.5,3.5]},"axis":{"values":[-3,-2,-1,0,1,2,3],"labelExpr":"datum.value+''","title":"Amplitude (µV)","titleY":131,"titleX":-37}},"y2":{"field":"h"}}},
{"data":{"name":"one"},"mark":"rule","encoding":{"x":{"datum":-100},"x2":{"datum":1000},"y":{"datum":0}}},
{"data":{"name":"p7"},"mark":"line","encoding":{"x":{"field":"t","type":"quantitative"},"y":{"field":"m","type":"quantitative"}}},
{"data":{"name":"one"},"mark":"rule","encoding":{"x":{"datum":0},"x2":{"datum":800},"y":{"datum":-3.5}}},
{"data":{"name":"one"},"mark":"rule","encoding":{"x":{"datum":-100},"y":{"datum":-3},"y2":{"datum":3}}},
{"data":{"name":"one"},"mark":{"type":"rule","strokeDash":[4,2],"color":"#111"},"encoding":{"x":{"datum":0},"y":{"datum":-3.5},"y2":{"datum":3.5}}},
{"data":{"name":"head"},"mark":{"type":"point","filled":true,"fill":"white","opacity":1,"stroke":"#111","strokeWidth":1,"size":3600,"shape":"M-0.944,0A0.944,0.944 0 1,1 0.944,0A0.944,0.944 0 1,1 -0.944,0Z M-0.19,-0.925L0,-1.11L0.19,-0.925Z M-0.95,-0.17L-1.03,-0.13L-1.03,0.25L-0.93,0.28 M0.95,-0.17L1.03,-0.13L1.03,0.25L0.93,0.28"},"encoding":{"x":{"field":"t","type":"quantitative"},"y":{"field":"v","type":"quantitative"}}},
{"data":{"name":"e7"},"mark":{"type":"circle","color":"black","opacity":1,"size":14},"encoding":{"x":{"field":"t","type":"quantitative"},"y":{"field":"v","type":"quantitative"}}},
{"data":{"name":"one"},"mark":{"type":"text","text":"FIGURE 5 |","fontWeight":"bold"},"encoding":{"x":{"datum":-328},"y":{"datum":-6.23}}},
{"data":{"name":"one"},"mark":{"type":"text","text":"Difference waveforms, the ERPs to V2 word order subtracted from that to V3 word order following"},"encoding":{"x":{"datum":3},"y":{"datum":-6.23}}},
{"data":{"name":"one"},"mark":{"type":"text","text":"kanske","fontStyle":"italic"},"encoding":{"x":{"datum":2421},"y":{"datum":-6.23}}},
{"data":{"name":"one"},"mark":{"type":"text","text":"‘maybe’ at the nine ROIs. Confidence"},"encoding":{"x":{"datum":2608},"y":{"datum":-6.23}}},
{"data":{"name":"one"},"mark":{"type":"text","text":"intervals are shaded. Positive plotted up."},"encoding":{"x":{"datum":-328},"y":{"datum":-6.87}}}
]},
{"layer":[
{"data":{"name":"p8"},"mark":"area","encoding":{"x":{"field":"t","type":"quantitative","scale":{"domain":[-100,1000]},"axis":{"values":[0,200,400,600,800],"title":null}},"y":{"field":"l","type":"quantitative","scale":{"domain":[-3.5,3.5]},"axis":{"values":[-3,-2,-1,0,1,2,3],"labels":false,"title":null}},"y2":{"field":"h"}}},
{"data":{"name":"one"},"mark":"rule","encoding":{"x":{"datum":-100},"x2":{"datum":1000},"y":{"datum":0}}},
{"data":{"name":"p8"},"mark":"line","encoding":{"x":{"field":"t","type":"quantitative"},"y":{"field":"m","type":"quantitative"}}},
{"data":{"name":"one"},"mark":"rule","encoding":{"x":{"datum":0},"x2":{"datum":800},"y":{"datum":-3.5}}},
{"data":{"name":"one"},"mark":"rule","encoding":{"x":{"datum":-100},"y":{"datum":-3},"y2":{"datum":3}}},
{"data":{"name":"one"},"mark":{"type":"rule","strokeDash":[4,2],"color":"#111"},"encoding":{"x":{"datum":0},"y":{"datum":-3.5},"y2":{"datum":3.5}}},
{"data":{"name":"head"},"mark":{"type":"point","filled":true,"fill":"white","opacity":1,"stroke":"#111","strokeWidth":1,"size":3600,"shape":"M-0.944,0A0.944,0.944 0 1,1 0.944,0A0.944,0.944 0 1,1 -0.944,0Z M-0.19,-0.925L0,-1.11L0.19,-0.925Z M-0.95,-0.17L-1.03,-0.13L-1.03,0.25L-0.93,0.28 M0.95,-0.17L1.03,-0.13L1.03,0.25L0.93,0.28"},"encoding":{"x":{"field":"t","type":"quantitative"},"y":{"field":"v","type":"quantitative"}}},
{"data":{"name":"e8"},"mark":{"type":"circle","color":"black","opacity":1,"size":14},"encoding":{"x":{"field":"t","type":"quantitative"},"y":{"field":"v","type":"quantitative"}}}
]},
{"layer":[
{"data":{"name":"p9"},"mark":"area","encoding":{"x":{"field":"t","type":"quantitative","scale":{"domain":[-100,1000]},"axis":{"values":[0,200,400,600,800],"title":null}},"y":{"field":"l","type":"quantitative","scale":{"domain":[-3.5,3.5]},"axis":{"values":[-3,-2,-1,0,1,2,3],"labels":false,"title":null}},"y2":{"field":"h"}}},
{"data":{"name":"one"},"mark":"rule","encoding":{"x":{"datum":-100},"x2":{"datum":1000},"y":{"datum":0}}},
{"data":{"name":"p9"},"mark":"line","encoding":{"x":{"field":"t","type":"quantitative"},"y":{"field":"m","type":"quantitative"}}},
{"data":{"name":"one"},"mark":"rule","encoding":{"x":{"datum":0},"x2":{"datum":800},"y":{"datum":-3.5}}},
{"data":{"name":"one"},"mark":"rule","encoding":{"x":{"datum":-100},"y":{"datum":-3},"y2":{"datum":3}}},
{"data":{"name":"one"},"mark":{"type":"rule","strokeDash":[4,2],"color":"#111"},"encoding":{"x":{"datum":0},"y":{"datum":-3.5},"y2":{"datum":3.5}}},
{"data":{"name":"head"},"mark":{"type":"point","filled":true,"fill":"white","opacity":1,"stroke":"#111","strokeWidth":1,"size":3600,"shape":"M-0.944,0A0.944,0.944 0 1,1 0.944,0A0.944,0.944 0 1,1 -0.944,0Z M-0.19,-0.925L0,-1.11L0.19,-0.925Z M-0.95,-0.17L-1.03,-0.13L-1.03,0.25L-0.93,0.28 M0.95,-0.17L1.03,-0.13L1.03,0.25L0.93,0.28"},"encoding":{"x":{"field":"t","type":"quantitative"},"y":{"field":"v","type":"quantitative"}}},
{"data":{"name":"e9"},"mark":{"type":"circle","color":"black","opacity":1,"size":14},"encoding":{"x":{"field":"t","type":"quantitative"},"y":{"field":"v","type":"quantitative"}}}
]}
]}
